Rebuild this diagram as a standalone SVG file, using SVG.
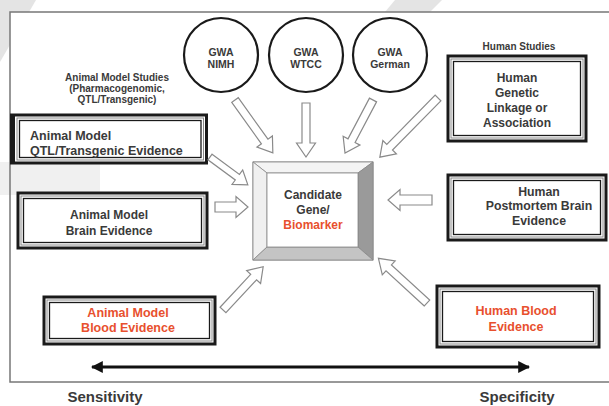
<svg xmlns="http://www.w3.org/2000/svg" width="609" height="406" viewBox="0 0 609 406">
<style>
text{font-family:"Liberation Sans",Arial,sans-serif;font-weight:bold;fill:#3a3a3a;text-anchor:middle}
.red{fill:#e8502e}
.b1{fill:#fff;stroke:#1a1a1a;stroke-width:3}
.b2{fill:none;stroke:#8a8a8a;stroke-width:1}
.b3{fill:none;stroke:#1a1a1a;stroke-width:1.3}
.circ{fill:#fff;stroke:#1a1a1a;stroke-width:2.2}
.ar{fill:#fff;stroke:#8a8a8a;stroke-width:1.2;stroke-linejoin:miter}
</style>
<defs>
<marker id="ah" viewBox="0 0 10 10" refX="9" refY="5" markerWidth="4" markerHeight="4" orient="auto-start-reverse">
<path d="M0,0 L10,5 L0,10 Z" fill="#111"/>
</marker>
</defs>
<rect width="609" height="406" fill="#fff"/>
<polygon points="0,0 36,0 0,62" fill="#e4e4e4"/>
<polygon points="395,0 442,0 430,12 385,12" fill="#e4e4e4"/>
<rect x="10" y="12" width="610" height="370" fill="#fff" stroke="#777" stroke-width="1.5"/>
<rect x="0" y="162" width="100" height="33" fill="#f0f0f0"/>
<line x1="10" y1="162" x2="10" y2="195" stroke="#777" stroke-width="1.5"/>

<g id="labels">
<text x="117" y="81" font-size="10">Animal Model Studies</text>
<text x="117" y="92" font-size="10">(Pharmacogenomic,</text>
<text x="117" y="103" font-size="10">QTL/Transgenic)</text>
<text x="519" y="50" font-size="10">Human Studies</text>
</g>

<g id="gwa-nimh">
<circle class="circ" cx="221" cy="55" r="37"/>
<text x="221" y="56" font-size="10.5">GWA</text>
<text x="221" y="68" font-size="10.5">NIMH</text>
</g>
<g id="gwa-wtcc">
<circle class="circ" cx="306" cy="55" r="37"/>
<text x="306" y="56" font-size="10.5">GWA</text>
<text x="306" y="68" font-size="10.5">WTCC</text>
</g>
<g id="gwa-german">
<circle class="circ" cx="390" cy="55" r="37"/>
<text x="390" y="56" font-size="10.5">GWA</text>
<text x="390" y="68" font-size="10.5">German</text>
</g>

<g id="human-genetic">
<rect class="b1" x="448" y="56" width="138" height="85"/>
<rect class="b2" x="451" y="59" width="132" height="79"/>
<rect class="b3" x="453.5" y="61.5" width="127" height="74"/>
<text x="517" y="82" font-size="12">Human</text>
<text x="517" y="96.5" font-size="12">Genetic</text>
<text x="517" y="111.5" font-size="12">Linkage or</text>
<text x="517" y="126.5" font-size="12">Association</text>
</g>

<g id="animal-qtl">
<rect class="b1" x="11.5" y="115" width="195" height="48"/>
<rect x="10" y="115" width="5" height="48" fill="#1a1a1a"/>
<rect class="b2" x="17" y="118" width="186.5" height="42"/>
<rect class="b3" x="19.5" y="120.5" width="181.5" height="37"/>
<text x="30" y="139.5" font-size="12.5" style="text-anchor:start">Animal Model</text>
<text x="30" y="155" font-size="12.5" style="text-anchor:start">QTL/Transgenic Evidence</text>
</g>

<g id="animal-brain">
<rect class="b1" x="18" y="193" width="189" height="55"/>
<rect class="b2" x="21" y="196" width="183" height="49"/>
<rect class="b3" x="23.5" y="198.5" width="178" height="44"/>
<text x="109" y="219" font-size="12">Animal Model</text>
<text x="109" y="234.5" font-size="12">Brain Evidence</text>
</g>

<g id="candidate">
<rect x="253" y="162" width="120" height="98" fill="#fff" stroke="#888" stroke-width="1"/>
<polygon points="253,162 373,162 358,173 267,173" fill="#f4f4f4" stroke="#888" stroke-width="0.8"/>
<polygon points="253,162 267,173 267,247 253,260" fill="#f0f0f0" stroke="#888" stroke-width="0.8"/>
<polygon points="373,162 373,260 358,247 358,173" fill="#9a9a9a" stroke="#888" stroke-width="0.8"/>
<polygon points="253,260 373,260 358,247 267,247" fill="#c4c4c4" stroke="#888" stroke-width="0.8"/>
<rect x="267" y="173" width="91" height="74" fill="#fff" stroke="#888" stroke-width="0.8"/>
<text x="313" y="199" font-size="12">Candidate</text>
<text x="313" y="214" font-size="12">Gene/</text>
<text x="313" y="229" font-size="12" class="red">Biomarker</text>
</g>

<g id="human-postmortem">
<rect class="b1" x="448" y="175" width="158" height="65"/>
<rect class="b2" x="451" y="178" width="152" height="59"/>
<rect class="b3" x="453.5" y="180.5" width="147" height="54"/>
<text x="539" y="196" font-size="12.3">Human</text>
<text x="539" y="210" font-size="12.3">Postmortem Brain</text>
<text x="539" y="224.5" font-size="12.3">Evidence</text>
</g>

<g id="animal-blood">
<rect class="b1" x="44" y="297" width="171" height="47"/>
<rect class="b2" x="47" y="300" width="165" height="41"/>
<rect class="b3" x="49.5" y="302.5" width="160" height="36"/>
<text x="128" y="317" font-size="12.5" class="red">Animal Model</text>
<text x="128" y="331.5" font-size="12.5" class="red">Blood Evidence</text>
</g>

<g id="human-blood">
<rect class="b1" x="437" y="286" width="162" height="61"/>
<rect class="b2" x="440" y="289" width="156" height="55"/>
<rect class="b3" x="442.5" y="291.5" width="151" height="50"/>
<text x="516" y="314.5" font-size="12.5" class="red">Human Blood</text>
<text x="516" y="330.5" font-size="12.5" class="red">Evidence</text>
</g>

<g id="connectors">
<path class="ar" transform="translate(235,100) rotate(54.4)" d="M0,-4 H51 V-9.5 L65,0 L51,9.5 V4 H0 Z"/>
<path class="ar" transform="translate(306,103) rotate(90)" d="M0,-4 H40 V-9.5 L54,0 L40,9.5 V4 H0 Z"/>
<path class="ar" transform="translate(373,100) rotate(117.8)" d="M0,-4 H46 V-9.5 L60,0 L46,9.5 V4 H0 Z"/>
<path class="ar" transform="translate(438,98) rotate(134.5)" d="M0,-4 H69 V-9.5 L83,0 L69,9.5 V4 H0 Z"/>
<path class="ar" transform="translate(210,157) rotate(36.4)" d="M0,-3.5 H34 V-9 L47,0 L34,9 V3.5 H0 Z"/>
<path class="ar" transform="translate(215,207) rotate(0)" d="M0,-5 H21 V-10.5 L33,0 L21,10.5 V5 H0 Z"/>
<path class="ar" transform="translate(432,200) rotate(180)" d="M0,-5 H32 V-10.5 L44,0 L32,10.5 V5 H0 Z"/>
<path class="ar" transform="translate(223,310) rotate(-47.1)" d="M0,-4 H45 V-9.5 L59,0 L45,9.5 V4 H0 Z"/>
<path class="ar" transform="translate(427,303) rotate(-137.4)" d="M0,-4 H52 V-9.5 L66,0 L52,9.5 V4 H0 Z"/>
<line x1="92" y1="367" x2="529" y2="367" stroke="#111" stroke-width="3" marker-start="url(#ah)" marker-end="url(#ah)"/>
</g>

<g id="axis-labels">
<text x="105" y="402" font-size="15">Sensitivity</text>
<text x="517" y="402" font-size="15">Specificity</text>
</g>
</svg>
